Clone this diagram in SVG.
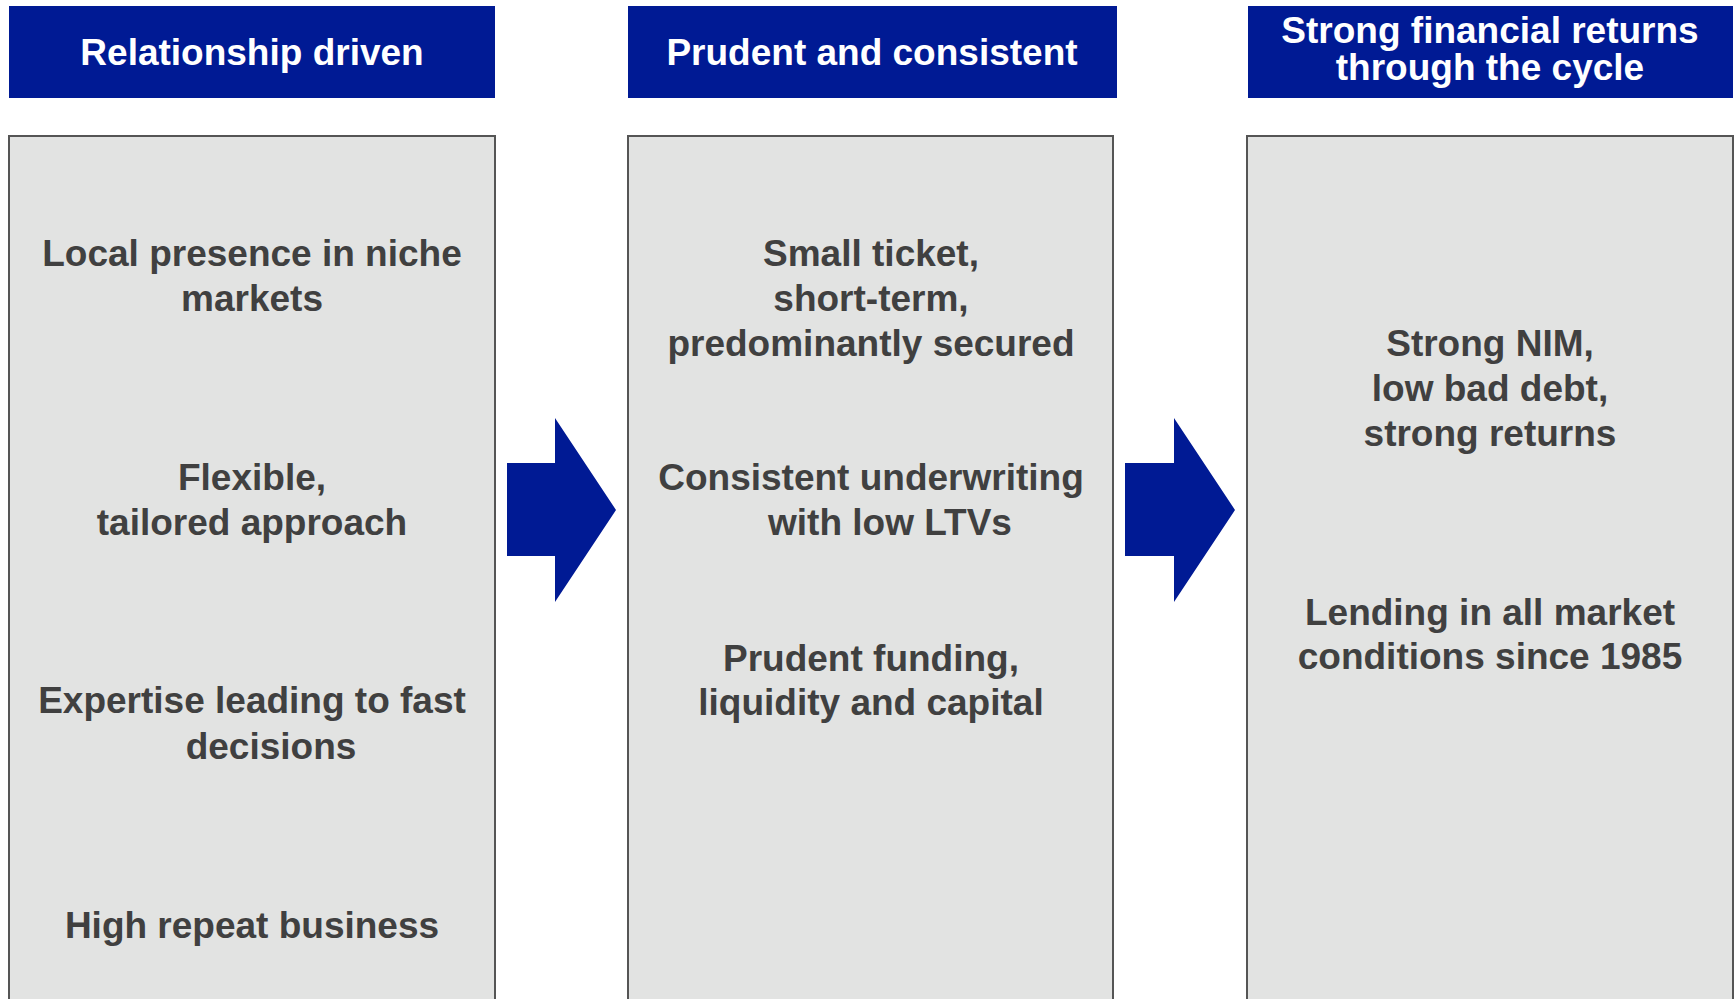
<svg xmlns="http://www.w3.org/2000/svg" width="1735" height="999" viewBox="0 0 1735 999">
<defs>
<style>
.hdr{fill:#001a94}
.hdrt{fill:#ffffff;font-family:"Liberation Sans",Arial,sans-serif;font-weight:bold;font-size:37px;text-anchor:middle}
.body{fill:#e2e3e2;stroke:#555555;stroke-width:2}
.bt{fill:#404040;font-family:"Liberation Sans",Arial,sans-serif;font-weight:bold;font-size:37px;text-anchor:middle}
.arr{fill:#001a94}
</style>
</defs>
<rect width="1735" height="999" fill="#ffffff"/>
<g id="col1">
<rect class="hdr" x="9" y="6" width="486" height="92"/>
<text class="hdrt" x="252" y="65">Relationship driven</text>
<rect class="body" x="9" y="136" width="486" height="875"/>
<text class="bt" x="252" y="266">Local presence in niche</text>
<text class="bt" x="252" y="311">markets</text>
<text class="bt" x="252" y="490">Flexible,</text>
<text class="bt" x="252" y="535">tailored approach</text>
<text class="bt" x="252" y="713">Expertise leading to fast</text>
<text class="bt" x="271" y="759">decisions</text>
<text class="bt" x="252" y="938">High repeat business</text>
</g>
<g id="col2">
<rect class="hdr" x="628" y="6" width="489" height="92"/>
<text class="hdrt" x="872" y="65">Prudent and consistent</text>
<rect class="body" x="628" y="136" width="485" height="875"/>
<text class="bt" x="871" y="266">Small ticket,</text>
<text class="bt" x="871" y="311">short-term,</text>
<text class="bt" x="871" y="356">predominantly secured</text>
<text class="bt" x="871" y="490">Consistent underwriting</text>
<text class="bt" x="890" y="535">with low LTVs</text>
<text class="bt" x="871" y="671">Prudent funding,</text>
<text class="bt" x="871" y="715">liquidity and capital</text>
</g>
<g id="col3">
<rect class="hdr" x="1248" y="6" width="485" height="92"/>
<text class="hdrt" x="1490" y="43">Strong financial returns</text>
<text class="hdrt" x="1490" y="80">through the cycle</text>
<rect class="body" x="1247" y="136" width="486" height="875"/>
<text class="bt" x="1490" y="356">Strong NIM,</text>
<text class="bt" x="1490" y="401">low bad debt,</text>
<text class="bt" x="1490" y="446">strong returns</text>
<text class="bt" x="1490" y="625">Lending in all market</text>
<text class="bt" x="1490" y="669">conditions since 1985</text>
</g>
<g id="connectors">
<polygon class="arr" points="507,463 555,463 555,418 616,510 555,602 555,556 507,556"/>
<polygon class="arr" points="1125,463 1174,463 1174,418 1235,510 1174,602 1174,556 1125,556"/>
</g>
</svg>
